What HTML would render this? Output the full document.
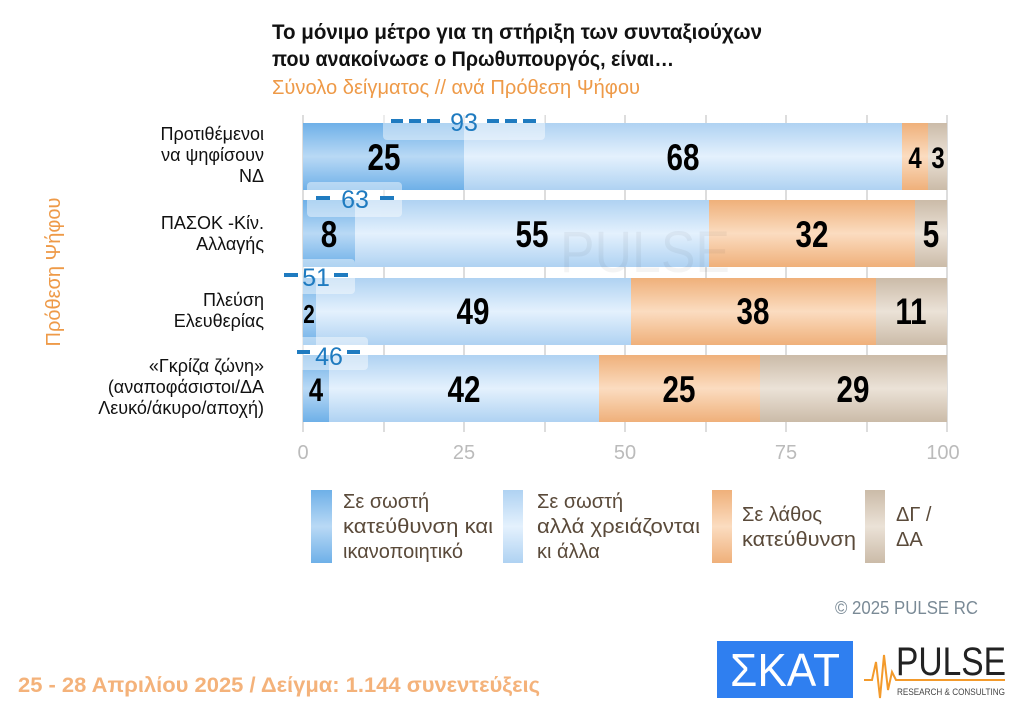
<!DOCTYPE html>
<html><head><meta charset="utf-8"><style>
body{margin:0;background:#fff;}
svg text{font-family:"Liberation Sans",sans-serif;}
.n{transform-box:fill-box;transform-origin:center;transform:scaleX(.8);}
</style></head><body>
<svg width="1024" height="699" viewBox="0 0 1024 699" xmlns="http://www.w3.org/2000/svg">
<defs>
<linearGradient id="db" x1="0" y1="0" x2="0" y2="1"><stop offset="0" stop-color="#6eb0e8"/><stop offset="0.5" stop-color="#b9d9f5"/><stop offset="1" stop-color="#6eb0e8"/></linearGradient>
<linearGradient id="lb" x1="0" y1="0" x2="0" y2="1"><stop offset="0" stop-color="#afd2f2"/><stop offset="0.5" stop-color="#e4f1fd"/><stop offset="1" stop-color="#afd2f2"/></linearGradient>
<linearGradient id="or" x1="0" y1="0" x2="0" y2="1"><stop offset="0" stop-color="#efb07a"/><stop offset="0.5" stop-color="#fbdcc0"/><stop offset="1" stop-color="#efb07a"/></linearGradient>
<linearGradient id="gr" x1="0" y1="0" x2="0" y2="1"><stop offset="0" stop-color="#cbbba8"/><stop offset="0.5" stop-color="#ebe2d7"/><stop offset="1" stop-color="#cbbba8"/></linearGradient>
</defs>
<text x="272" y="39" font-size="21" font-weight="bold" fill="#111" textLength="490" lengthAdjust="spacingAndGlyphs">Το μόνιμο μέτρο  για τη στήριξη των συνταξιούχων</text>
<text x="272" y="66" font-size="21" font-weight="bold" fill="#111" textLength="402" lengthAdjust="spacingAndGlyphs">που ανακοίνωσε ο Πρωθυπουργός, είναι…</text>
<text x="272" y="94" font-size="20" fill="#ee9a48" textLength="368" lengthAdjust="spacingAndGlyphs">Σύνολο δείγματος // ανά Πρόθεση Ψήφου</text>
<g stroke="#ddd" stroke-width="2">
<line x1="303" y1="115" x2="303" y2="432"/><line x1="384" y1="115" x2="384" y2="432"/><line x1="464" y1="115" x2="464" y2="432"/><line x1="545" y1="115" x2="545" y2="432"/><line x1="625" y1="115" x2="625" y2="432"/><line x1="706" y1="115" x2="706" y2="432"/><line x1="786" y1="115" x2="786" y2="432"/><line x1="867" y1="115" x2="867" y2="432"/><line x1="947" y1="115" x2="947" y2="432"/>
</g>
<g>
<rect x="303" y="123" width="161" height="67" fill="url(#db)"/><rect x="464" y="123" width="438" height="67" fill="url(#lb)"/><rect x="902" y="123" width="26" height="67" fill="url(#or)"/><rect x="928" y="123" width="19" height="67" fill="url(#gr)"/>
<rect x="303" y="200" width="52" height="67" fill="url(#db)"/><rect x="355" y="200" width="354" height="67" fill="url(#lb)"/><rect x="709" y="200" width="206" height="67" fill="url(#or)"/><rect x="915" y="200" width="32" height="67" fill="url(#gr)"/>
<rect x="303" y="278" width="13" height="67" fill="url(#db)"/><rect x="316" y="278" width="315" height="67" fill="url(#lb)"/><rect x="631" y="278" width="245" height="67" fill="url(#or)"/><rect x="876" y="278" width="71" height="67" fill="url(#gr)"/>
<rect x="303" y="355" width="26" height="67" fill="url(#db)"/><rect x="329" y="355" width="270" height="67" fill="url(#lb)"/><rect x="599" y="355" width="161" height="67" fill="url(#or)"/><rect x="760" y="355" width="187" height="67" fill="url(#gr)"/>
</g>
<text x="560" y="272" font-size="58" fill="#000" opacity="0.04" textLength="170" lengthAdjust="spacingAndGlyphs">PULSE</text>
<g font-size="37" font-weight="bold" fill="#000" text-anchor="middle">
<text class="n" x="384" y="170">25</text><text class="n" x="683" y="170">68</text><text class="n" x="915" y="168" font-size="30">4</text><text class="n" x="938" y="168" font-size="30">3</text>
<text class="n" x="329" y="247">8</text><text class="n" x="532" y="247">55</text><text class="n" x="812" y="247">32</text><text class="n" x="931" y="247">5</text>
<text class="n" x="309" y="323" font-size="26">2</text><text class="n" x="473" y="324">49</text><text class="n" x="753" y="324">38</text><text class="n" x="911" y="324">11</text>
<text class="n" x="316" y="401" font-size="32">4</text><text class="n" x="464" y="402">42</text><text class="n" x="679" y="402">25</text><text class="n" x="853" y="402">29</text>
</g>
<g fill="#fff" opacity="0.45">
<rect x="383" y="110" width="162" height="30" rx="4"/><rect x="307" y="182" width="95" height="35" rx="4"/><rect x="283" y="259" width="72" height="35" rx="4"/><rect x="290" y="337" width="78" height="33" rx="4"/>
</g>
<g fill="#1f7bc0" font-size="25" text-anchor="middle">
<text x="464" y="131">93</text><text x="355" y="208">63</text><text x="316" y="286">51</text><text x="329" y="365">46</text>
</g>
<g stroke="#1f7bc0" stroke-width="4">
<line x1="391" y1="121" x2="403" y2="121"/><line x1="409" y1="121" x2="421" y2="121"/><line x1="427" y1="121" x2="440" y2="121"/>
<line x1="487" y1="121" x2="499" y2="121"/><line x1="505" y1="121" x2="517" y2="121"/><line x1="523" y1="121" x2="536" y2="121"/>
<line x1="316" y1="198" x2="330" y2="198"/><line x1="380" y1="198" x2="394" y2="198"/>
<line x1="284" y1="275" x2="298" y2="275"/><line x1="334" y1="275" x2="348" y2="275"/>
<line x1="297" y1="352" x2="310" y2="352"/><line x1="347" y1="352" x2="360" y2="352"/>
</g>
<g font-size="18" fill="#111" text-anchor="end">
<text x="264" y="140">Προτιθέμενοι</text><text x="264" y="161">να ψηφίσουν</text><text x="264" y="182">ΝΔ</text>
<text x="264" y="229">ΠΑΣΟΚ -Κίν.</text><text x="264" y="250">Αλλαγής</text>
<text x="264" y="306">Πλεύση</text><text x="264" y="327">Ελευθερίας</text>
<text x="264" y="372">«Γκρίζα ζώνη»</text><text x="264" y="393">(αναποφάσιστοι/ΔΑ</text><text x="264" y="414">Λευκό/άκυρο/αποχή)</text>
</g>
<text transform="translate(60,272) rotate(-90)" font-size="20" fill="#ee9a48" text-anchor="middle">Πρόθεση Ψήφου</text>
<g font-size="20" fill="#bbb" text-anchor="middle">
<text x="303" y="459">0</text><text x="464" y="459">25</text><text x="625" y="459">50</text><text x="786" y="459">75</text><text x="943" y="459">100</text>
</g>
<rect x="311" y="490" width="21" height="73" fill="url(#db)"/>
<rect x="503" y="490" width="20" height="73" fill="url(#lb)"/>
<rect x="712" y="490" width="20" height="73" fill="url(#or)"/>
<rect x="865" y="490" width="20" height="73" fill="url(#gr)"/>
<g font-size="20" fill="#5a4a3a">
<text x="343" y="508">Σε σωστή</text><text x="343" y="533" textLength="150" lengthAdjust="spacingAndGlyphs">κατεύθυνση και</text><text x="343" y="558">ικανοποιητικό</text>
<text x="537" y="508">Σε σωστή</text><text x="537" y="533" textLength="163" lengthAdjust="spacingAndGlyphs">αλλά χρειάζονται</text><text x="537" y="558">κι άλλα</text>
<text x="742" y="521">Σε λάθος</text><text x="742" y="546" textLength="114" lengthAdjust="spacingAndGlyphs">κατεύθυνση</text>
<text x="896" y="521">ΔΓ /</text><text x="896" y="546">ΔΑ</text>
</g>
<text x="835" y="614" font-size="18" fill="#7a8a96" textLength="143" lengthAdjust="spacingAndGlyphs">©  2025  PULSE RC</text>
<text x="18" y="692" font-size="21" font-weight="bold" fill="#f4b27a" textLength="522" lengthAdjust="spacingAndGlyphs">25 - 28 Απριλίου 2025  /  Δείγμα:  1.144 συνεντεύξεις</text>
<rect x="717" y="641" width="136" height="57" fill="#2f7ff0"/>
<text x="785" y="686" font-size="46" fill="#fff" text-anchor="middle" textLength="110" lengthAdjust="spacingAndGlyphs">ΣΚΑΤ</text>
<polyline points="864,680 872,680 876,662 880,698 884,655 888,690 892,672 896,680 1005,680" fill="none" stroke="#f39a2b" stroke-width="2"/>
<text x="896" y="675" font-size="40" fill="#222" textLength="110" lengthAdjust="spacingAndGlyphs">PULSE</text>
<text x="897" y="695" font-size="9" fill="#444" textLength="108" lengthAdjust="spacingAndGlyphs">RESEARCH &amp; CONSULTING</text>
</svg>
</body></html>
